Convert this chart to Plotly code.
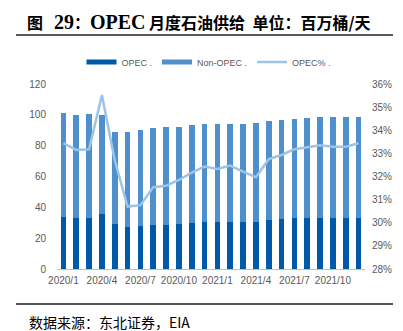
import plotly.graph_objects as go

months = ["2020/1", "2020/2", "2020/3", "2020/4", "2020/5", "2020/6", "2020/7", "2020/8",
          "2020/9", "2020/10", "2020/11", "2020/12", "2021/1", "2021/2", "2021/3", "2021/4",
          "2021/5", "2021/6", "2021/7", "2021/8", "2021/9", "2021/10", "2021/11", "2021/12"]
opec = [34.0, 33.4, 33.4, 35.8, 28.9, 27.4, 28.0, 28.7, 28.7, 28.9, 29.9, 30.6,
        30.6, 30.2, 30.2, 30.6, 31.9, 32.3, 33.0, 33.0, 33.4, 33.4, 33.4, 33.4]
non_opec = [67.3, 66.8, 67.2, 64.3, 59.7, 61.2, 62.3, 62.7, 63.1, 63.3, 63.6, 63.4,
            63.7, 63.8, 64.1, 63.9, 64.2, 64.4, 64.5, 65.0, 65.1, 65.1, 65.3, 65.1]
opec_pct = [33.44, 33.15, 33.18, 35.52, 32.7, 30.70, 30.76, 31.54, 31.60, 31.85, 32.17, 32.43,
            32.33, 32.47, 32.21, 31.97, 32.75, 32.93, 33.18, 33.26, 33.35, 33.29, 33.29, 33.44]
opec_pct_frac = [v / 100 for v in opec_pct]
xlabels = months[::3]

W, H = 403, 331
L, R, T, B = 57, 38, 84, 62
PW, PH = W - L - R, H - T - B

C_OPEC = "#0058A9"
C_NON = "#4F8FCB"
C_PCT = "#9DC3E6"
GRAY = "#595959"
AXC = "#BFBFBF"
NARROW = "Liberation Sans Narrow, Arial Narrow, Liberation Sans, Arial"
TICKFONT = dict(family=NARROW, size=10, color=GRAY)

fig = go.Figure()
fig.add_bar(x=months, y=opec, marker_color=C_OPEC, marker_line_width=0, showlegend=False, name="OPEC .")
fig.add_bar(x=months, y=non_opec, marker_color=C_NON, marker_line_width=0, showlegend=False, name="Non-OPEC .")
fig.add_scatter(x=months, y=opec_pct_frac, yaxis="y2", mode="lines",
                line=dict(color=C_PCT, width=2.5), showlegend=False, name="OPEC% .")

# legend proxies
fig.add_scatter(x=[None], y=[None], mode="lines", line=dict(color=C_OPEC, width=5), name="OPEC .")
fig.add_scatter(x=[None], y=[None], mode="lines", line=dict(color=C_NON, width=5), name="Non-OPEC .")
fig.add_scatter(x=[None], y=[None], mode="lines", line=dict(color=C_PCT, width=2.5), name="OPEC% .")

px2x = lambda px: (px - L) / PW
py2y = lambda py: (H - B - py) / PH

SERIF = "font-family:'Liberation Serif','Times New Roman',serif;font-size:20px"
NB = "\u00a0"
title_text = (f"<b>图{NB*3}<span style=\"{SERIF}\">29</span>：<span style=\"{SERIF}\">OPEC</span>"
              f"{NB}月度石油供给{NB*2}单位：百万桶/天</b>")

fig.update_layout(
    width=W, height=H,
    margin=dict(l=L, r=R, t=T, b=B, pad=0),
    paper_bgcolor="white", plot_bgcolor="white",
    barmode="stack", bargap=0.55,
    title=dict(text=title_text,
               x=27 / W, xanchor="left", xref="container",
               y=1 - 23 / H, yanchor="middle", yref="container",
               font=dict(family="Noto Sans CJK SC", size=16, color="black")),
    xaxis=dict(type="category", range=[-0.5, len(months) - 0.5],
               tickmode="array", tickvals=xlabels, ticktext=xlabels,
               ticks="", showline=True, linecolor=AXC, linewidth=1,
               showgrid=False, tickfont=TICKFONT, ticklabelstandoff=2),
    xaxis2=dict(overlaying="x", anchor="y", range=[-0.5, len(months) - 0.5],
                tickmode="array", tickvals=[i - 0.5 for i in range(0, len(months) + 1, 3)],
                showticklabels=False, ticks="outside", ticklen=4, tickcolor=AXC,
                showline=False, showgrid=False, zeroline=False),
    yaxis=dict(range=[0, 120], dtick=20, showgrid=False, zeroline=False, showline=False,
               ticks="", tickfont=TICKFONT, ticklabelstandoff=10),
    yaxis2=dict(range=[0.28, 0.36], dtick=0.01, tickformat=".0%", overlaying="y", side="right",
                showgrid=False, zeroline=False, showline=False, ticks="",
                tickfont=TICKFONT, ticklabelstandoff=6),
    legend=dict(orientation="h", x=px2x(209), xanchor="center", y=py2y(62), yanchor="middle",
                traceorder="normal",
                font=dict(family=NARROW, size=9, color=GRAY),
                bgcolor="rgba(0,0,0,0)", itemwidth=30, tracegroupgap=0),
    shapes=[
        dict(type="line", xref="paper", yref="paper", x0=px2x(16), x1=px2x(393),
             y0=py2y(35), y1=py2y(35), line=dict(color="#222222", width=1.5)),
        dict(type="line", xref="paper", yref="paper", x0=px2x(16), x1=px2x(393),
             y0=py2y(304), y1=py2y(304), line=dict(color="#222222", width=1.5)),
    ],
    annotations=[
        dict(text="数据来源：东北证券，EIA", xref="paper", yref="paper",
             x=px2x(27), xanchor="left", y=py2y(322), yanchor="middle", showarrow=False,
             font=dict(family="Noto Sans CJK SC", size=14, color="black")),
    ],
)

fig.write_html("out.html")
